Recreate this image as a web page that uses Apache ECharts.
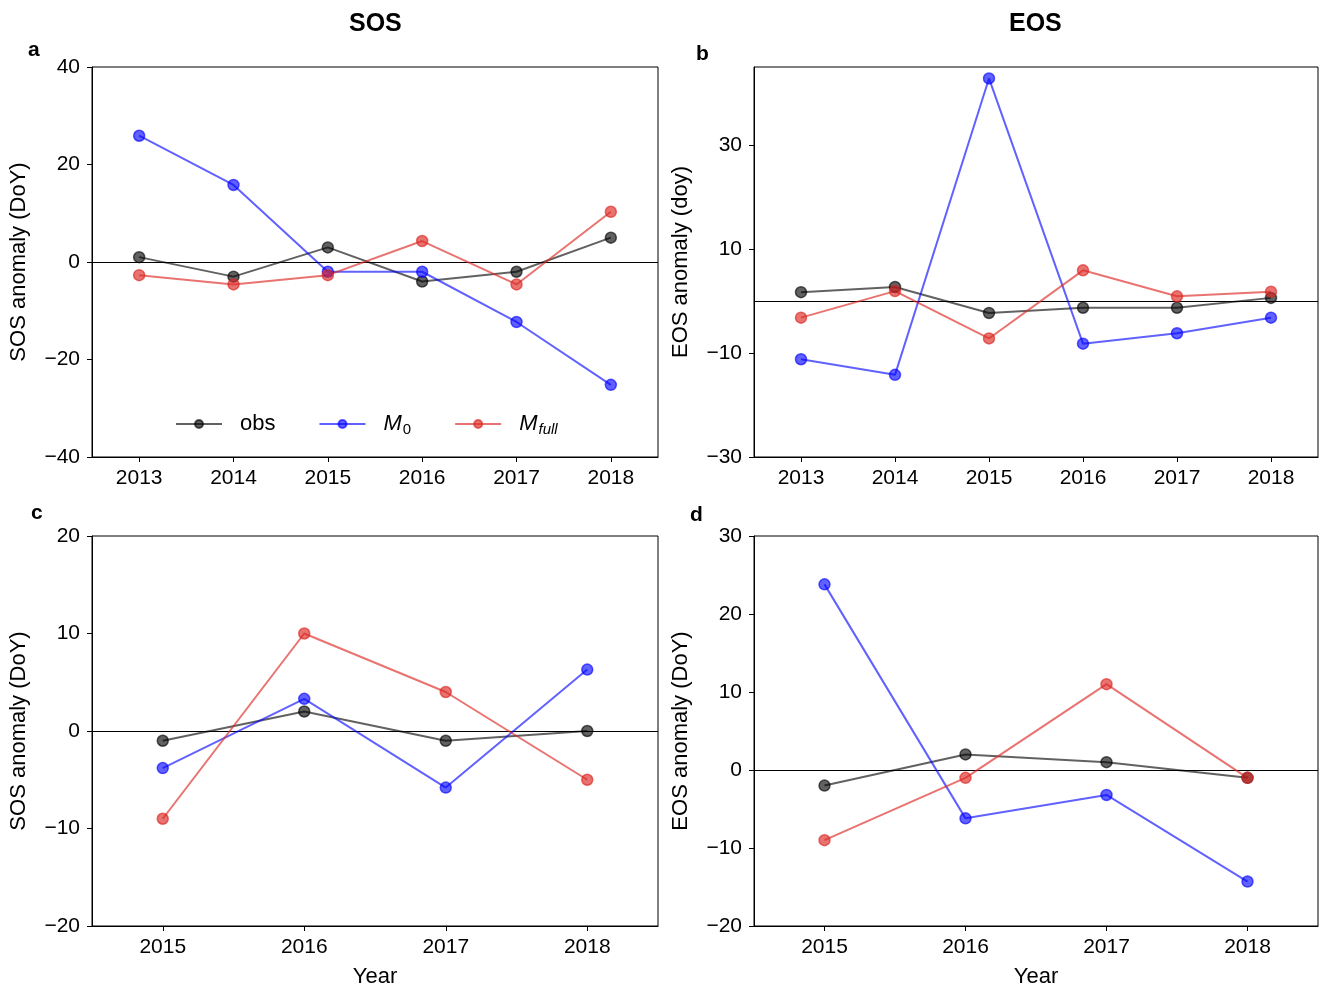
<!DOCTYPE html>
<html>
<head>
<meta charset="utf-8">
<title>SOS / EOS anomalies</title>
<script src="https://cdn.jsdelivr.net/npm/echarts@6/dist/echarts.min.js"></script>
<style>
  html, body { margin: 0; padding: 0; background: #fff; }
  #chart { width: 1322px; height: 992px; }
</style>
</head>
<body>
<div id="chart"></div>
<script>
// Years on the x axes
const yearsTop = ['2013', '2014', '2015', '2016', '2017', '2018'];
const yearsBottom = ['2015', '2016', '2017', '2018'];

// Panel a: SOS anomaly, 2013-2018
const sosObsA = [1, -3, 3, -4, -2, 5];
const sosM0A = [25.9, 15.8, -2, -2, -12.3, -25.2];
const sosFullA = [-2.7, -4.6, -2.7, 4.3, -4.6, 10.3];

// Panel b: EOS anomaly, 2013-2018
const eosObsB = [1.7, 2.7, -2.3, -1.3, -1.3, 0.6];
const eosM0B = [-11.2, -14.2, 42.8, -8.2, -6.2, -3.2];
const eosFullB = [-3.2, 1.9, -7.2, 5.9, 0.9, 1.8];

// Panel c: SOS anomaly, 2015-2018
const sosObsC = [-1, 2, -1, 0];
const sosM0C = [-3.8, 3.3, -5.8, 6.3];
const sosFullC = [-9, 10, 4, -5];

// Panel d: EOS anomaly, 2015-2018
const eosObsD = [-2, 2, 1, -1];
const eosM0D = [23.8, -6.2, -3.2, -14.3];
const eosFullD = [-9, -1, 11, -1];

// Y axis tick values per panel
const ticksA = [-40, -20, 0, 20, 40];
const ticksB = [-30, -10, 10, 30];
const ticksC = [-20, -10, 0, 10, 20];
const ticksD = [-20, -10, 0, 10, 20, 30];

const FONT = '"Liberation Sans", Arial, Helvetica, sans-serif';
const COLORS = {
  obs: 'rgba(0,0,0,0.62)',
  M0: 'rgba(0,0,255,0.62)',
  Mfull: 'rgba(220,40,35,0.65)'
};

const grids = [
  { left: 92, top: 67, width: 566, height: 390 },
  { left: 754, top: 67, width: 564, height: 390 },
  { left: 92, top: 536, width: 566, height: 390 },
  { left: 754, top: 536, width: 564, height: 390 }
].map(g => Object.assign({ show: true, borderColor: '#000', borderWidth: 1, backgroundColor: 'transparent' }, g));

function minusSign(v) {
  return String(v).replace('-', '\u2212');
}

function xAxisFor(i, data, withName) {
  return {
    type: 'category',
    gridIndex: i,
    data: data,
    boundaryGap: true,
    axisLine: { show: true, onZero: false, lineStyle: { color: '#000', width: 1 } },
    axisTick: { show: true, alignWithLabel: true, length: 5, lineStyle: { color: '#000', width: 1 } },
    axisLabel: { color: '#000', fontSize: 21, fontFamily: FONT, margin: 11 },
    splitLine: { show: false },
    name: withName ? 'Year' : '',
    nameLocation: 'middle',
    nameGap: 40,
    nameTextStyle: { color: '#000', fontSize: 22, fontFamily: FONT }
  };
}

function yAxisFor(i, min, max, ticks, name) {
  return {
    type: 'value',
    gridIndex: i,
    min: min,
    max: max,
    axisLine: { show: true, onZero: false, lineStyle: { color: '#000', width: 1 } },
    axisTick: { show: true, length: 5, customValues: ticks, lineStyle: { color: '#000', width: 1 } },
    axisLabel: { color: '#000', fontSize: 21, fontFamily: FONT, margin: 12, customValues: ticks, formatter: minusSign },
    splitLine: { show: false },
    name: name,
    nameLocation: 'middle',
    nameGap: 62,
    nameTextStyle: { color: '#000', fontSize: 22, fontFamily: FONT }
  };
}

function lineSeries(name, data, idx, withZero) {
  const c = COLORS[name];
  const s = {
    name: name,
    type: 'line',
    xAxisIndex: idx,
    yAxisIndex: idx,
    data: data,
    symbol: 'circle',
    symbolSize: 11,
    showAllSymbol: true,
    lineStyle: { color: c, width: 2 },
    itemStyle: { color: c, borderColor: c, borderWidth: 1.5 },
    emphasis: { disabled: true },
    z: 3
  };
  if (withZero) {
    s.markLine = {
      silent: true,
      symbol: 'none',
      label: { show: false },
      lineStyle: { color: '#000', width: 1, type: 'solid', opacity: 1 },
      data: [{ yAxis: 0 }],
      z: 1
    };
  }
  return s;
}

const series = [];
[[sosObsA, sosM0A, sosFullA], [eosObsB, eosM0B, eosFullB],
 [sosObsC, sosM0C, sosFullC], [eosObsD, eosM0D, eosFullD]].forEach((set, i) => {
  series.push(lineSeries('obs', set[0], i, true));
  series.push(lineSeries('M0', set[1], i, false));
  series.push(lineSeries('Mfull', set[2], i, false));
});

const labelStyle = { fill: '#000', fontFamily: FONT, fontWeight: 'bold' };

const option = {
  animation: false,
  backgroundColor: '#fff',
  grid: grids,
  xAxis: [
    xAxisFor(0, yearsTop, false),
    xAxisFor(1, yearsTop, false),
    xAxisFor(2, yearsBottom, true),
    xAxisFor(3, yearsBottom, true)
  ],
  yAxis: [
    yAxisFor(0, -40, 40, ticksA, 'SOS anomaly (DoY)'),
    yAxisFor(1, -30, 45, ticksB, 'EOS anomaly (doy)'),
    yAxisFor(2, -20, 20, ticksC, 'SOS anomaly (DoY)'),
    yAxisFor(3, -20, 30, ticksD, 'EOS anomaly (DoY)')
  ],
  legend: {
    left: 170,
    top: 408,
    itemWidth: 46,
    itemHeight: 10,
    itemGap: 43,
    data: ['obs', 'M0', 'Mfull'],
    formatter: function (name) {
      if (name === 'M0') return '{m|M}{d|0}';
      if (name === 'Mfull') return '{m|M}{f|full}';
      return name;
    },
    textStyle: {
      color: '#000',
      fontSize: 22,
      fontFamily: FONT,
      padding: [0, 0, 0, 13],
      rich: {
        m: { fontSize: 22, fontStyle: 'italic', fontFamily: FONT, color: '#000' },
        d: { fontSize: 15, fontFamily: FONT, color: '#000', padding: [12, 0, 0, 1] },
        f: { fontSize: 15, fontStyle: 'italic', fontFamily: FONT, color: '#000', padding: [12, 0, 0, 1] }
      }
    }
  },
  graphic: [
    { type: 'text', left: 349, top: 12, style: Object.assign({ text: 'SOS', fontSize: 25 }, labelStyle) },
    { type: 'text', left: 1009, top: 12, style: Object.assign({ text: 'EOS', fontSize: 25 }, labelStyle) },
    { type: 'text', left: 28, top: 40, style: Object.assign({ text: 'a', fontSize: 21 }, labelStyle) },
    { type: 'text', left: 696, top: 44, style: Object.assign({ text: 'b', fontSize: 21 }, labelStyle) },
    { type: 'text', left: 31, top: 503, style: Object.assign({ text: 'c', fontSize: 21 }, labelStyle) },
    { type: 'text', left: 690, top: 505, style: Object.assign({ text: 'd', fontSize: 21 }, labelStyle) }
  ],
  series: series
};

const chart = echarts.init(document.getElementById('chart'), null, { renderer: 'canvas' });
chart.setOption(option);
</script>
</body>
</html>
